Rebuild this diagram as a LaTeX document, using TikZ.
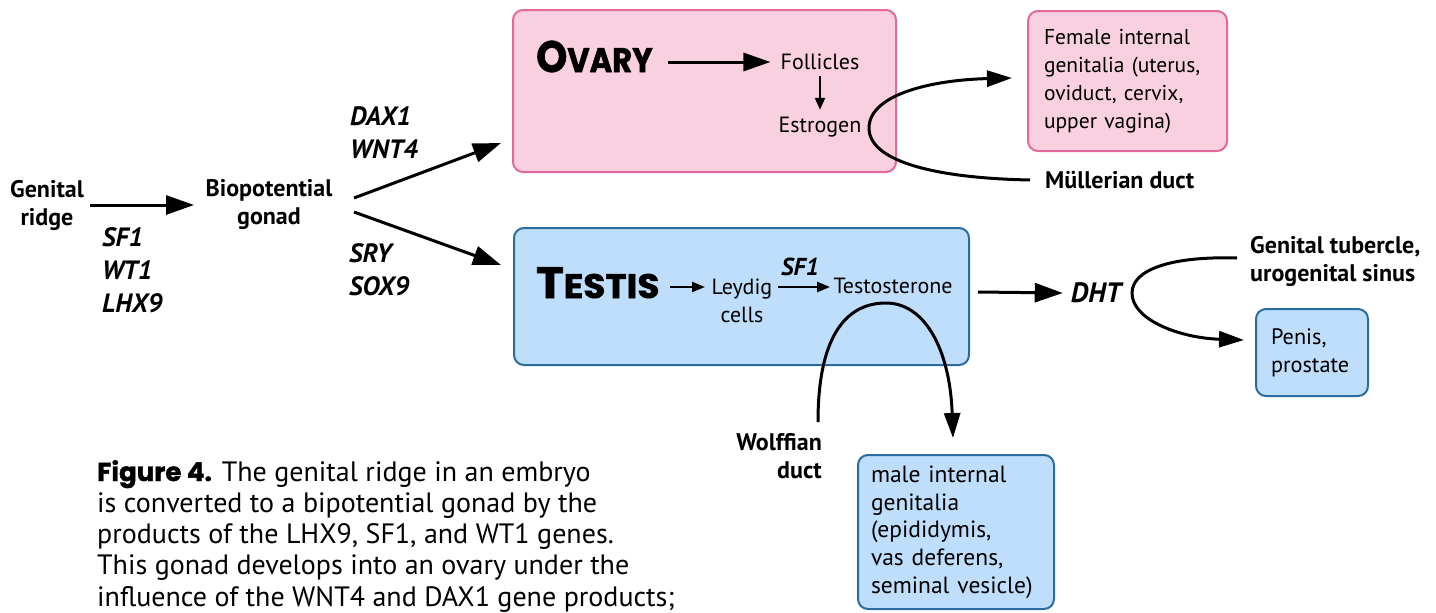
\documentclass[tikz,border=0pt]{standalone}
\usepackage{fontspec}
\usepackage{graphicx}
\setmainfont{PT Sans}
\newfontfamily\titlefont{Poppins}[BoldFeatures={FakeBold=1.5}]
\usetikzlibrary{arrows.meta}
\definecolor{pinkfill}{HTML}{F9D0DF}
\definecolor{pinkline}{HTML}{E5679C}
\definecolor{bluefill}{HTML}{BEDEFB}
\definecolor{blueline}{HTML}{2A6CA0}
\begin{document}
\begin{tikzpicture}[x=1pt,y=-1pt,
 lbl/.style={font=\fontsize{24}{28}\selectfont\bfseries, align=center, inner sep=0pt},
 gene/.style={font=\fontsize{26.5}{33}\selectfont\bfseries\itshape, align=left, inner sep=0pt},
 txt/.style={font=\fontsize{22}{28}\selectfont, align=center, inner sep=0pt},
 boxtxt/.style={font=\fontsize{21.5}{28}\selectfont, align=left},
 pinkbox/.style={draw=pinkline, fill=pinkfill, line width=2pt, rounded corners=10pt, anchor=north west, inner sep=0pt},
 bluebox/.style={draw=blueline, fill=bluefill, line width=2pt, rounded corners=10pt, anchor=north west, inner sep=0pt},
 bigarrow/.style={line width=3pt, -{Triangle[length=28pt,width=19pt]}},
 smallarrow/.style={line width=2.4pt, -{Triangle[length=13pt,width=10pt]}},
 curvearrow/.style={line width=3pt, -{Triangle[length=25pt,width=16pt]}},
 ttl/.style={anchor=base west, inner sep=0pt, font=\titlefont\bfseries}
]
\useasboundingbox (0,0) rectangle (1436,613);

% boxes
\node[pinkbox, minimum width=383pt, minimum height=162pt] (ovary) at (512,9) {};
\node[bluebox, minimum width=455pt, minimum height=137pt] (testis) at (513,227) {};
\node[pinkbox, boxtxt, text width=167pt, inner xsep=16pt, minimum height=140pt] (female) at (1027,10)
  {Female internal\\genitalia (uterus,\\oviduct, cervix,\\upper vagina)};
\node[bluebox, boxtxt, font=\fontsize{23.5}{27.7}\selectfont, text width=170pt, inner xsep=13pt, minimum height=154pt] (male) at (857,454)
  {male internal\\genitalia\\(epididymis,\\vas deferens,\\seminal vesicle)};
\node[bluebox, boxtxt, font=\fontsize{22.3}{28}\selectfont, text width=82pt, inner xsep=15pt, minimum height=87pt] (penis) at (1255,308)
  {Penis,\\prostate};

% left part
\node[lbl] (ridge) at (47,205) {Genital\\ridge};
\node[lbl] (bipot) at (269,205) {Biopotential\\gonad};
\node[gene, anchor=west] (g1) at (102,270) {SF1\\WT1\\LHX9};
\node[gene, anchor=west] (g2) at (350,133) {DAX1\\WNT4};
\node[gene, anchor=west] (g3) at (349,270) {SRY\\SOX9};

\coordinate (ra) at (90,205);
\coordinate (rb) at (194,205);
\draw[bigarrow] (ra) -- (rb);
\coordinate (bo1) at (354,198);
\coordinate (ov1) at (501,143);
\coordinate (bo2) at (354,212);
\coordinate (te1) at (501,265);
\draw[bigarrow] (bo1) -- (ov1);
\draw[bigarrow] (bo2) -- (te1);

% ovary content
\node[ttl] (ovt) at (536,72) {\scalebox{0.9}[1]{{\fontsize{44}{44}\selectfont O}{\fontsize{34}{34}\selectfont VARY}}};
\node[txt] (foll) at (820,62) {Follicles};
\node[txt] (estr) at (820,127) {Estrogen};
\coordinate (oa) at (668,62);
\draw[line width=3pt, -{Triangle[length=27pt,width=18pt]}] (oa) -- ([xshift=-10pt]foll.west);
\draw[line width=2.2pt, -{Triangle[length=12pt,width=10pt]}] ([yshift=-6pt]foll.south) -- ([yshift=7pt]estr.north);

% testis content
\node[ttl] (tet) at (536,298) {\scalebox{1.06}[1]{{\fontsize{44}{44}\selectfont T}{\fontsize{34}{34}\selectfont ESTIS}}};
\node[txt] (leydig) at (742,301) {Leydig\\cells};
\node[txt] (testo) at (893,286) {Testosterone};
\node[gene, font=\fontsize{24.5}{28}\selectfont\bfseries\itshape] (sf1b) at (800,267) {SF1};
\coordinate (la) at (670,287);
\coordinate (lb) at (705,287);
\draw[smallarrow] (la) -- (lb);
\coordinate (sa) at (778,287);
\coordinate (sb) at (830,287);
\draw[smallarrow] (sa) -- (sb);

% DHT
\node[gene, font=\fontsize{28}{30}\selectfont\bfseries\itshape] (dht) at (1096,293) {DHT};
\coordinate (da) at (978,292);
\draw[bigarrow] (da) -- ([xshift=-8pt]dht.west);

% right labels
\node[lbl, anchor=west] (muller) at (1045,180) {Müllerian duct};
\node[lbl, anchor=west, align=left] (tub) at (1250,261.5) {Genital tubercle,\\urogenital sinus};
\node[lbl, anchor=east, align=right] (wolff) at (822,456) {Wolffian\\duct};

% curves
\coordinate (fin) at (1012,78);
\draw[curvearrow] ([xshift=-15pt]muller.west) .. controls (930,178) and (869,160) .. (869,128)
   .. controls (869,95) and (930,80) .. (fin);
\coordinate (wstart) at (818,422);
\coordinate (wend) at (953,438);
\draw[curvearrow] (wstart) .. controls (818,330) and (850,303) .. (886,303)
   .. controls (925,303) and (950,350) .. (wend);
\coordinate (dstart) at (1237,258);
\coordinate (dend) at (1244,340);
\draw[curvearrow] (dstart) .. controls (1170,256) and (1132,270) .. (1132,293)
   .. controls (1132,320) and (1180,338) .. (dend);

% caption
\node[anchor=north west, inner sep=0pt, align=left, font=\fontsize{28}{31.3}\selectfont] (cap) at (97,460)
 {{\titlefont\bfseries\fontsize{26}{31.3}\selectfont Figure 4.} The genital ridge in an embryo\\
  is converted to a bipotential gonad by the\\
  products of the LHX9, SF1, and WT1 genes.\\
  This gonad develops into an ovary under the\\
  influence of the WNT4 and DAX1 gene products;};
\end{tikzpicture}
\end{document}
